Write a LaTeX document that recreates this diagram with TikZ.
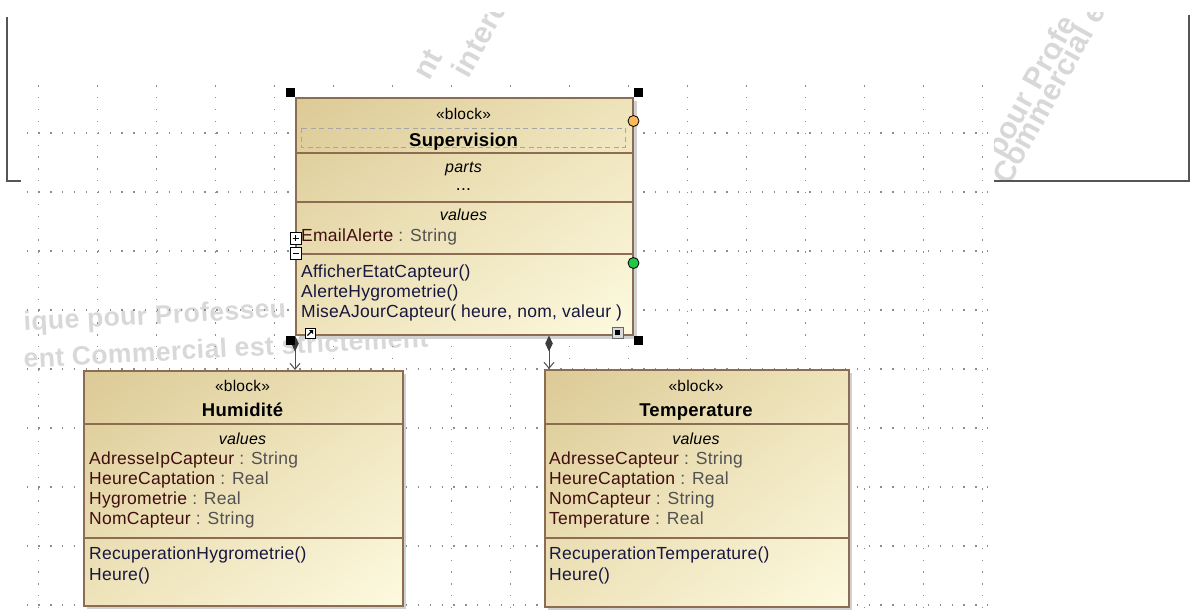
\documentclass[tikz,border=0pt]{standalone}
\usepackage{fontspec}
\setmainfont[LetterSpace=1.5]{Liberation Sans}
\usetikzlibrary{arrows.meta,shadings}
\definecolor{blkborder}{RGB}{140,108,82}
\definecolor{blktan}{RGB}{220,202,150}
\definecolor{blkmid}{RGB}{238,227,186}
\definecolor{blkcream}{RGB}{253,250,224}
\definecolor{attrname}{RGB}{64,14,14}
\definecolor{attrtype}{RGB}{82,82,82}
\definecolor{opcol}{RGB}{22,22,62}
\definecolor{wmcol}{RGB}{216,216,216}
\definecolor{gridcol}{RGB}{140,140,140}
\definecolor{framecol}{RGB}{85,85,85}
\definecolor{linecol}{RGB}{80,80,80}
\definecolor{diamcol}{RGB}{60,60,60}
\definecolor{portorange}{RGB}{255,184,92}
\definecolor{portgreen}{RGB}{30,200,70}
\begin{document}
\begin{tikzpicture}[x=1pt,y=-1pt,
  griddot/.style={draw=gridcol, line width=1.3pt, dash pattern=on 1.3pt off 10.56pt},
  framel/.style={draw=framecol, line width=1.6pt},
  wm/.style={text=wmcol, font=\fontsize{26.5}{30}\selectfont\bfseries, inner sep=0pt, anchor=base west},
  wmt/.style={wm, font=\fontsize{30}{34}\selectfont\bfseries, rotate=61},
  blockbox/.style={rectangle, draw=blkborder, line width=1.5pt, upper left=blktan, upper right=blkmid, lower left=blkmid, lower right=blkcream, inner sep=0pt, anchor=north west},
  shadowbox/.style={fill=black!18},
  divline/.style={draw=blkborder, line width=1.5pt},
  ster/.style={font=\fontsize{15.5}{18}\selectfont, inner sep=0pt, anchor=base},
  bname/.style={font=\fontsize{18.5}{22}\selectfont\bfseries, inner sep=0pt, anchor=base},
  compt/.style={font=\fontsize{16}{19}\selectfont\itshape, inner sep=0pt, anchor=base},
  mem/.style={font=\fontsize{17.5}{20}\selectfont, inner sep=0pt, anchor=base west},
  opm/.style={mem, text=opcol},
  comp/.style={draw=linecol, line width=1pt, {Diamond[length=16pt,width=7.5pt,color=diamcol]}-{Straight Barb[length=6pt,width=10pt]}},
  port/.style={circle, draw=black, line width=0.8pt, minimum size=11pt, inner sep=0pt},
  handle/.style={fill=black},
]
\useasboundingbox (0,0) rectangle (1193,613);
\fill[white] (0,0) rectangle (1193,613);

% watermark fragments
\begin{scope}
\clip (22,270) rectangle (452,380);
\node[wm, rotate=3] (wl1) at (24,331) {ique pour Professeu};
\node[wm, rotate=3] (wl2) at (24,368) {ent Commercial est strictement};
\end{scope}
\begin{scope}
\clip (380,12) rectangle (560,79);
\node[wmt] (wt1) at (429,82) {nt};
\node[wmt] (wt2) at (468,80) {interd};
\end{scope}
\begin{scope}
\clip (994,12) rectangle (1188,180);
\node[wmt] (wr1) at (1002,159) {pour Profe};
\node[wmt] (wr2) at (1009,187) {Commercial e};
\end{scope}

% dotted grid
\foreach \i in {0,...,16} { \draw[griddot] (38.7+59*\i,85.2) -- (38.7+59*\i,613); }
\foreach \j in {0,...,8} { \draw[griddot] (26.5,133+59*\j) -- (994,133+59*\j); }

% frame fragments
\draw[framel] (7,17) -- (7,181) -- (21,181);
\draw[framel] (994,181) -- (1189,181) -- (1189,15);

% shadows
\fill[shadowbox] (299,101) rectangle (637,339);
\fill[shadowbox] (87,374) rectangle (406,609);
\fill[shadowbox] (548,373) rectangle (852,610);

% blocks
\node[blockbox, minimum width=337pt, minimum height=237pt] (sup) at (295,97) {};
\node[blockbox, minimum width=319pt, minimum height=235pt] (hum) at (83,370) {};
\node[blockbox, minimum width=304pt, minimum height=237pt] (tem) at (544,369) {};

% compartments
\draw[divline] (sup.west |- 0,153) -- (sup.east |- 0,153);
\draw[divline] (sup.west |- 0,202) -- (sup.east |- 0,202);
\draw[divline] (sup.west |- 0,254) -- (sup.east |- 0,254);
\draw[divline] (hum.west |- 0,424) -- (hum.east |- 0,424);
\draw[divline] (hum.west |- 0,538) -- (hum.east |- 0,538);
\draw[divline] (tem.west |- 0,424) -- (tem.east |- 0,424);
\draw[divline] (tem.west |- 0,538) -- (tem.east |- 0,538);
\draw[draw=black!35, line width=0.8pt, dash pattern=on 5pt off 3.5pt] (301,128) rectangle (625,147);

% Supervision texts
\node[ster] (sst) at (463.5,119.5) {«block»};
\node[bname] (sname) at (463.5,146) {Supervision};
\node[compt] (sparts) at (463.5,172.5) {parts};
\node[mem, anchor=base] (sdots) at (463.5,190) {...};
\node[compt] (svals) at (463.5,220) {values};
\node[mem] (sa1) at (301,241.5) {\textcolor{attrname}{EmailAlerte} \textcolor{attrtype}{: String}};
\node[opm] (so1) at (301,277) {AfficherEtatCapteur()};
\node[opm] (so2) at (301,297) {AlerteHygrometrie()};
\node[opm] (so3) at (301,317) {MiseAJourCapteur( heure, nom, valeur )};

% Humidite texts
\node[ster] (hst) at (242.5,391) {«block»};
\node[bname] (hname) at (242.5,416) {Humidité};
\node[compt] (hvals) at (242.5,444.5) {values};
\node[mem] (ha1) at (89,464.5) {\textcolor{attrname}{AdresseIpCapteur} \textcolor{attrtype}{: String}};
\node[mem] (ha2) at (89,484.5) {\textcolor{attrname}{HeureCaptation} \textcolor{attrtype}{: Real}};
\node[mem] (ha3) at (89,504.5) {\textcolor{attrname}{Hygrometrie} \textcolor{attrtype}{: Real}};
\node[mem] (ha4) at (89,524.5) {\textcolor{attrname}{NomCapteur} \textcolor{attrtype}{: String}};
\node[opm] (ho1) at (89,559.5) {RecuperationHygrometrie()};
\node[opm] (ho2) at (89,580.5) {Heure()};

% Temperature texts
\node[ster] (tst) at (696,391) {«block»};
\node[bname] (tname) at (696,416) {Temperature};
\node[compt] (tvals) at (696,444.5) {values};
\node[mem] (ta1) at (549,464.5) {\textcolor{attrname}{AdresseCapteur} \textcolor{attrtype}{: String}};
\node[mem] (ta2) at (549,484.5) {\textcolor{attrname}{HeureCaptation} \textcolor{attrtype}{: Real}};
\node[mem] (ta3) at (549,504.5) {\textcolor{attrname}{NomCapteur} \textcolor{attrtype}{: String}};
\node[mem] (ta4) at (549,524.5) {\textcolor{attrname}{Temperature} \textcolor{attrtype}{: Real}};
\node[opm] (to1) at (549,559.5) {RecuperationTemperature()};
\node[opm] (to2) at (549,580.5) {Heure()};

% connectors (composition)
\coordinate (cx1) at (295,0);
\coordinate (cx2) at (549,0);
\draw[comp] (sup.south -| cx1) -- (hum.north -| cx1);
\draw[comp] (sup.south -| cx2) -- (tem.north -| cx2);

% ports
\node[port, fill=portorange] (p1) at (sup.east |- 0,121) {};
\node[port, fill=portgreen] (p2) at (sup.east |- 0,263) {};

% expand / collapse boxes
\draw[fill=white, draw=black, line width=0.8pt] (290,232) rectangle (301,244);
\draw[black, line width=1pt] (292.5,238) -- (298.5,238) (295.5,235) -- (295.5,241);
\draw[fill=white, draw=black, line width=0.8pt] (290,247) rectangle (301,259);
\draw[black, line width=1pt] (292.5,253) -- (298.5,253);

% small icons
\draw[fill=white, draw=black, line width=1pt] (305,328) rectangle (315,338);
\draw[black, line width=1.2pt] (307.5,335.5) -- (311.5,331.5);
\fill[black] (313,330) -- (309,330) -- (313,334) -- cycle;
\draw[fill=black!15, draw=black!60, line width=1pt] (612,327) rectangle (623,338);
\fill[black] (615,330) rectangle (620,335);

% selection handles
\fill[handle] (sup.north west) rectangle +(-9,-9);
\fill[handle] (sup.north east) rectangle +(9,-9);
\fill[handle] (sup.south west) rectangle +(-9,9);
\fill[handle] (sup.south east) rectangle +(9,9);
\end{tikzpicture}
\end{document}
